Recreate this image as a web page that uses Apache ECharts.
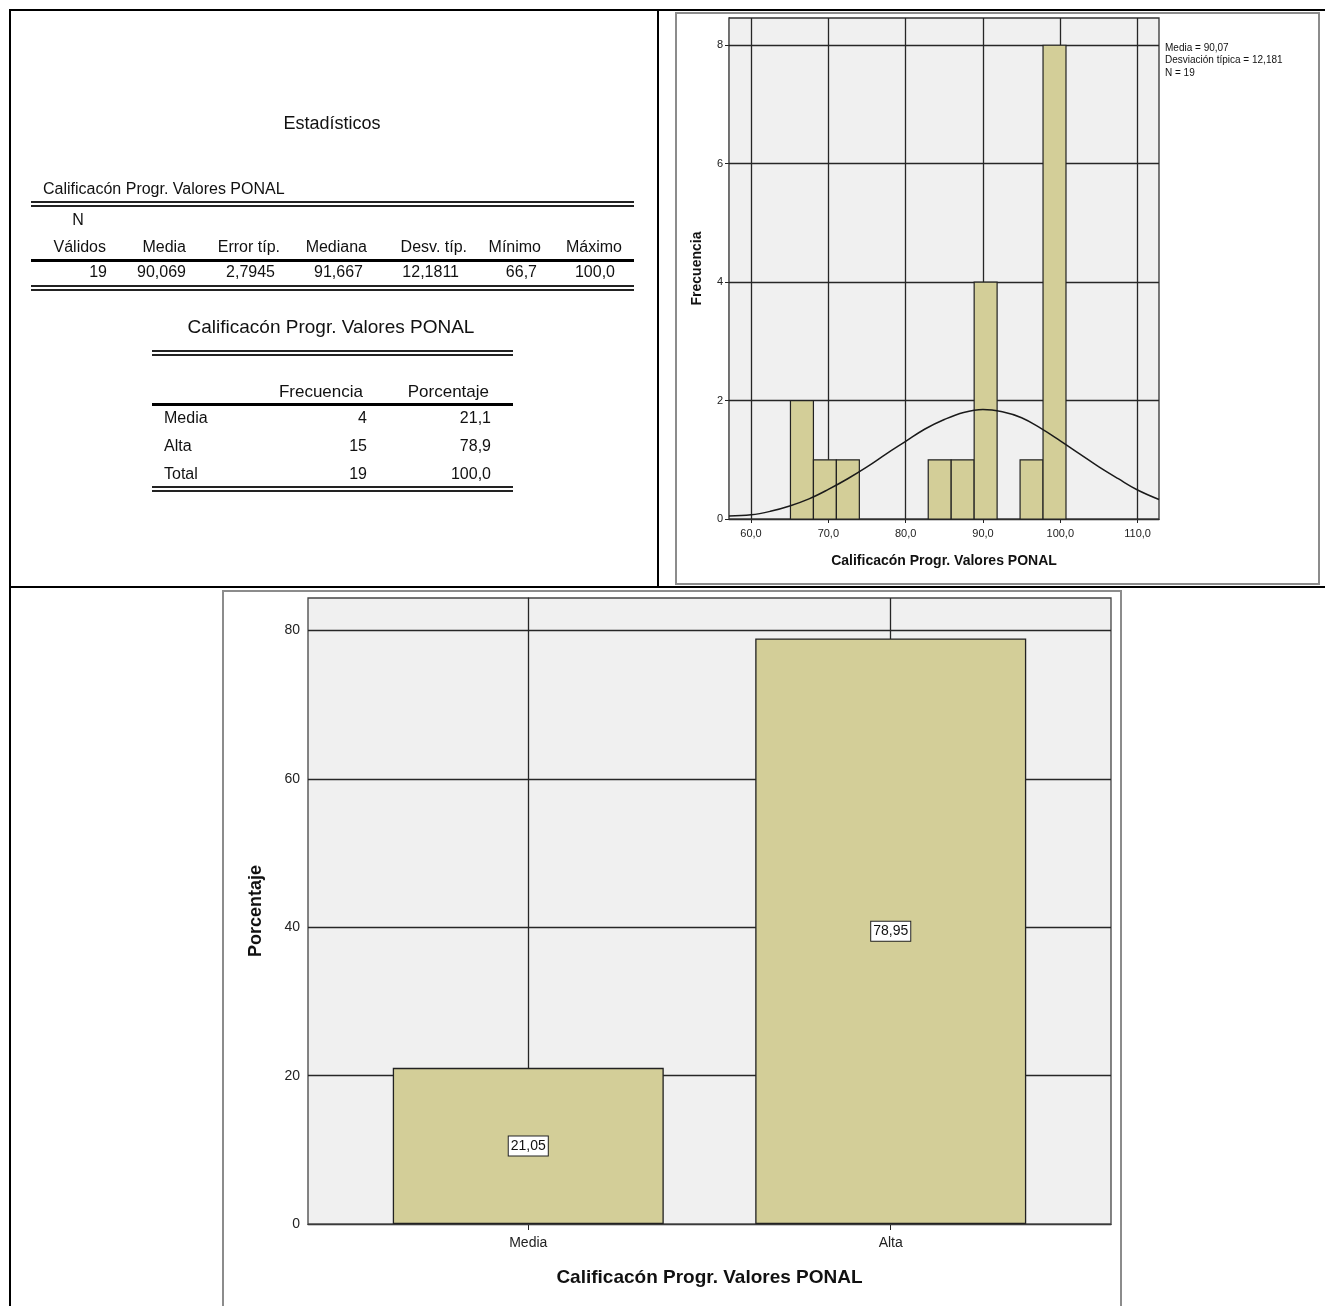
<!DOCTYPE html>
<html><head><meta charset="utf-8">
<script src="https://cdn.jsdelivr.net/npm/echarts@6/dist/echarts.min.js"></script>
<style>html,body{margin:0;padding:0;background:#fff}#c{width:1325px;height:1306px}</style>
</head><body><div id="c"></div>
<script>
// ---------- data ----------
const statsTitle = 'Estadísticos';
const varName = 'Calificacón Progr. Valores PONAL';
const statsNLabel = 'N';
const statsHeaders = ['Válidos', 'Media', 'Error típ.', 'Mediana', 'Desv. típ.', 'Mínimo', 'Máximo'];
const statsValues = ['19', '90,069', '2,7945', '91,667', '12,1811', '66,7', '100,0'];
const freqHeaders = ['Frecuencia', 'Porcentaje'];
const freqRows = ['Media', 'Alta', 'Total'];
const freqCounts = ['4', '15', '19'];
const freqPercents = ['21,1', '78,9', '100,0'];

const histBinLow = [65.10, 68.07, 71.04, 82.92, 85.89, 88.86, 94.80, 97.77];
const histBinHigh = [68.07, 71.04, 74.01, 85.89, 88.86, 91.83, 97.77, 100.74];
const histCounts = [2, 1, 1, 1, 1, 4, 1, 8];
const histXTicks = [60, 70, 80, 90, 100, 110];
const histYTicks = [0, 2, 4, 6, 8];
const curveX = [57.15, 60, 62.5, 65, 67.5, 70, 72.5, 75, 77.5, 80, 82.5, 85, 87.5, 90, 92.5, 95, 97.5, 100, 102.5, 105, 107.5, 110, 112.77];
const curveY = [0.05, 0.07, 0.13, 0.22, 0.34, 0.50, 0.68, 0.88, 1.10, 1.31, 1.52, 1.68, 1.80, 1.85, 1.81, 1.71, 1.53, 1.32, 1.10, 0.88, 0.68, 0.49, 0.33];
const histNote = ['Media = 90,07', 'Desviación típica = 12,181', 'N = 19'];
const histYName = 'Frecuencia';

const barCategories = ['Media', 'Alta'];
const barPercents = [21.05, 78.95];
const barYTicks = [0, 20, 40, 60, 80];
const barYName = 'Porcentaje';

// ---------- helpers ----------
const FONT = "'Liberation Sans', Arial, sans-serif";
const comma = (v, d) => v.toFixed(d).replace('.', ',');
const G = [];
function rect(x, y, w, h, fill) { G.push({type: 'rect', silent: true, shape: {x, y, width: w, height: h}, style: {fill}}); }
function text(str, x, y, size, align, opts) {
  G.push({type: 'text', silent: true, x, y,
    style: {text: str, font: (opts && opts.bold ? 'bold ' : '') + size + 'px ' + FONT,
      fill: '#111', textAlign: align, textVerticalAlign: 'middle'}});
}

// outer table lines
rect(9, 9, 1316, 2, '#000');
rect(9, 9, 2, 1297, '#000');
rect(657, 9, 2, 578, '#000');
rect(9, 586, 1316, 2, '#000');
// histogram picture frame
G.push({type: 'rect', silent: true, shape: {x: 676, y: 13, width: 643, height: 571}, style: {fill: '#fff', stroke: '#8c8c8c', lineWidth: 2}});
// bar chart picture frame
G.push({type: 'rect', silent: true, shape: {x: 223, y: 591, width: 898, height: 730}, style: {fill: '#fff', stroke: '#8c8c8c', lineWidth: 2}});

// statistics table
text(statsTitle, 332, 124, 18, 'center');
text(varName, 43, 190, 16, 'left');
rect(31, 201, 603, 2, '#222'); rect(31, 205, 603, 2, '#222');
text(statsNLabel, 78, 221, 16, 'center');
const hdrRight = [106, 186, 280, 367, 467, 541, 622];
const valRight = [107, 186, 275, 363, 459, 537, 615];
statsHeaders.forEach((h, i) => text(h, hdrRight[i], 248, 16, 'right'));
rect(31, 259, 603, 3, '#000');
statsValues.forEach((v, i) => text(v, valRight[i], 273, 16, 'right'));
rect(31, 285, 603, 2, '#222'); rect(31, 289, 603, 2, '#222');

// frequency table
text(varName, 331, 328, 19, 'center');
rect(152, 350, 361, 2, '#222'); rect(152, 354, 361, 2, '#222');
text(freqHeaders[0], 363, 392, 17, 'right');
text(freqHeaders[1], 489, 392, 17, 'right');
rect(152, 403, 361, 3, '#000');
freqRows.forEach((r, i) => {
  const y = 419 + i * 28;
  text(r, 164, y, 16, 'left');
  text(freqCounts[i], 367, y, 16, 'right');
  text(freqPercents[i], 491, y, 16, 'right');
});
rect(152, 486, 361, 2, '#222'); rect(152, 490, 361, 2, '#222');

// histogram note
histNote.forEach((t, i) => text(t, 1165, 48 + i * 12.5, 10, 'left'));

// ---------- chart ----------
const chart = echarts.init(document.getElementById('c'), null, {renderer: 'canvas'});
const axisText = {color: '#222', fontFamily: FONT};
const curveData = curveX.map((x, i) => [x, curveY[i]]);
const histData = histCounts.map((c, i) => [histBinLow[i], histBinHigh[i], c]);
const gridLineStyle = {color: '#262626', width: 1.3, type: 'solid'};
function gridLines(xVals, yVals) {
  return {silent: true, z: 2, symbol: ['none', 'none'], label: {show: false}, lineStyle: gridLineStyle,
    emphasis: {disabled: true}, animation: false,
    data: xVals.map(v => ({xAxis: v})).concat(yVals.map(v => ({yAxis: v})))};
}

chart.setOption({
  animation: false,
  backgroundColor: 'transparent',
  graphic: {elements: G},
  grid: [
    {left: 729, top: 18, width: 430, height: 501, show: true, backgroundColor: '#f0f0f0', borderColor: '#333', borderWidth: 1.3, z: 1},
    {left: 308, top: 598, width: 803, height: 626, show: true, backgroundColor: '#f0f0f0', borderColor: '#444', borderWidth: 1.3, z: 1}
  ],
  xAxis: [
    {type: 'value', gridIndex: 0, min: 57.15, max: 112.77,
      name: varName, nameLocation: 'middle', nameGap: 35,
      nameTextStyle: {fontSize: 14, fontWeight: 'bold', color: '#111', fontFamily: FONT},
      axisLine: {lineStyle: {color: '#222', width: 1.3}},
      axisTick: {show: true, length: 4, lineStyle: {color: '#222'}, customValues: histXTicks},
      axisLabel: Object.assign({fontSize: 11, margin: 9, customValues: histXTicks, formatter: v => comma(v, 1)}, axisText),
      splitLine: {show: false}},
    {type: 'value', gridIndex: 1, min: -0.6077, max: 1.6077,
      name: varName, nameLocation: 'middle', nameGap: 44,
      nameTextStyle: {fontSize: 19, fontWeight: 'bold', color: '#111', fontFamily: FONT},
      axisLine: {lineStyle: {color: '#222', width: 1.3}},
      axisTick: {show: true, length: 6, lineStyle: {color: '#222'}, customValues: [0, 1]},
      axisLabel: Object.assign({fontSize: 14, margin: 12, customValues: [0, 1], formatter: v => barCategories[Math.round(v)] || ''}, axisText),
      splitLine: {show: false}}
  ],
  yAxis: [
    {type: 'value', gridIndex: 0, min: 0, max: 8.46,
      name: histYName, nameLocation: 'middle', nameGap: 25,
      nameTextStyle: {fontSize: 14, fontWeight: 'bold', color: '#111', fontFamily: FONT},
      axisLine: {show: true, lineStyle: {color: '#222', width: 1.3}},
      axisTick: {show: true, length: 4, lineStyle: {color: '#222'}, customValues: histYTicks},
      axisLabel: Object.assign({fontSize: 11, margin: 6, customValues: histYTicks}, axisText),
      splitLine: {show: false}},
    {type: 'value', gridIndex: 1, min: 0, max: 84.4,
      name: barYName, nameLocation: 'middle', nameGap: 43,
      nameTextStyle: {fontSize: 18, fontWeight: 'bold', color: '#111', fontFamily: FONT},
      axisLine: {show: true, lineStyle: {color: '#222', width: 1.3}},
      axisTick: {show: true, length: 6, lineStyle: {color: '#222'}, customValues: barYTicks},
      axisLabel: Object.assign({fontSize: 14, margin: 8, customValues: barYTicks}, axisText),
      splitLine: {show: false}}
  ],
  series: [
    {type: 'line', xAxisIndex: 0, yAxisIndex: 0, data: [], z: 2, symbol: 'none',
      markLine: gridLines(histXTicks, histYTicks.filter(v => v > 0))},
    {type: 'line', xAxisIndex: 1, yAxisIndex: 1, data: [], z: 2, symbol: 'none',
      markLine: gridLines([0, 1], barYTicks.filter(v => v > 0))},
    {type: 'custom', xAxisIndex: 0, yAxisIndex: 0, data: histData, z: 3,
      renderItem: (params, api) => {
        const p0 = api.coord([api.value(0), api.value(2)]);
        const p1 = api.coord([api.value(1), 0]);
        return {type: 'rect', shape: {x: p0[0], y: p0[1], width: p1[0] - p0[0], height: p1[1] - p0[1]},
          style: {fill: '#d3ce98', stroke: '#222', lineWidth: 1.2}};
      }},
    {type: 'line', xAxisIndex: 0, yAxisIndex: 0, data: curveData, smooth: 0.4, symbol: 'none', z: 4,
      lineStyle: {color: '#1a1a1a', width: 1.5}},
    {type: 'bar', xAxisIndex: 1, yAxisIndex: 1, z: 3,
      data: barPercents.map((v, i) => [i, v]), barWidth: 271,
      itemStyle: {color: '#d3ce98', borderColor: '#222', borderWidth: 1.3},
      label: {show: true, position: 'inside', formatter: p => comma(p.value[1], 2),
        fontSize: 14, color: '#111', fontFamily: FONT, backgroundColor: '#fff',
        borderColor: '#222', borderWidth: 1, padding: [3, 2, 2, 2]}}
  ]
});
</script>
</body></html>
